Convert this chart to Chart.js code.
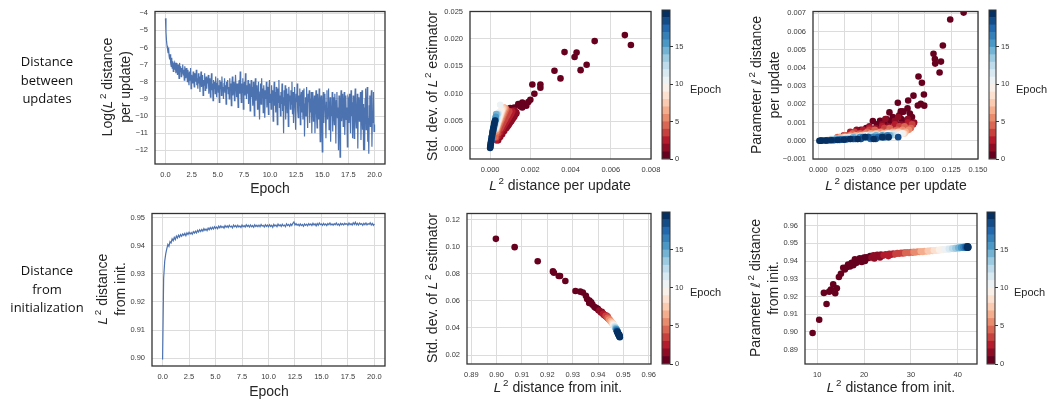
<!DOCTYPE html>
<html><head><meta charset="utf-8">
<script src="https://cdn.jsdelivr.net/npm/chart.js@4.4.0/dist/chart.umd.min.js"></script>
<style>
html,body{margin:0;padding:0;background:#fff;}
body{width:1048px;height:401px;position:relative;overflow:hidden;font-family:"Liberation Sans",Arial,sans-serif;color:#262626;}
canvas{position:absolute;}
.lbl{position:absolute;white-space:nowrap;text-align:center;font-size:14px;line-height:17px;}
.lbl sup,.cbl sup{font-size:70%;vertical-align:0;position:relative;top:-0.6em;margin-left:2px;}
.lbl i{font-family:"DejaVu Sans",sans-serif;font-size:13px;}
.row{position:absolute;width:110px;text-align:center;font-family:"Open Sans",sans-serif;font-size:13px;line-height:18.5px;color:#111;}
.cbl{position:absolute;font-size:11px;line-height:13px;white-space:nowrap;}
</style></head><body>
<script>
// ---------------- DATA ----------------
// Row 1, left: Log(L2 distance per update), sampled every 0.05 epoch
const logDistPerUpdate = [
-4.3,-5.1,-5.6,-5.9,-6.1,-6.3,-6.0,-6.5,-6.7,-6.4,-6.9,-7.1,-6.6,-7.2,-6.8,-7.4,-7.0,-6.9,-7.3,-7.1,-7.5,
-6.9,-7.2,-7.6,-7.0,-7.3,-7.8,-6.9,-7.4,-7.1,-7.7,-7.2,-7.5,-7.0,-7.6,-7.3,-7.9,-7.1,-7.4,-7.8,-7.2,
-7.5,-8.0,-7.3,-7.7,-8.2,-7.4,-7.9,-7.2,-8.4,-7.6,-7.8,-8.1,-7.4,-7.9,-8.3,-7.5,-7.7,-8.0,-7.3,-8.2,
-7.8,-8.4,-7.5,-8.1,-7.7,-8.6,-7.9,-7.4,-8.3,-8.0,-7.6,-8.8,-7.9,-8.2,-7.5,-8.5,-8.0,-7.7,-8.4,-7.8,
-8.1,-7.6,-8.7,-8.0,-7.8,-8.9,-8.2,-7.5,-8.5,-8.1,-9.1,-7.9,-8.4,-8.0,-8.7,-7.7,-8.3,-8.9,-8.1,-7.8,
-8.6,-8.2,-9.2,-7.9,-8.4,-8.0,-8.8,-7.7,-8.5,-8.3,-9.0,-8.1,-7.8,-8.6,-8.2,-9.3,-8.0,-8.4,-7.9,-8.7,
-8.3,-9.0,-7.8,-8.5,-8.1,-9.4,-8.2,-7.7,-8.8,-8.4,-8.0,-9.1,-8.6,-7.6,-8.3,-8.9,-8.1,-8.5,-9.5,-8.2,
-7.9,-8.7,-7.4,-8.4,-9.2,-8.1,-8.6,-7.8,-9.6,-8.3,-8.0,-8.8,-7.5,-8.5,-9.0,-8.2,-8.7,-7.9,-9.3,-8.4,
-8.1,-9.7,-8.6,-7.9,-8.9,-8.3,-9.4,-8.0,-8.7,-10.0,-8.4,-7.8,-9.1,-8.5,-8.2,-9.6,-8.8,-8.0,-9.2,-10.2,
-8.6,-8.1,-9.3,-7.8,-8.9,-8.4,-9.8,-8.2,-8.7,-10.1,-8.5,-9.0,-8.0,-9.5,-8.3,-8.8,-9.9,-8.4,-7.9,-9.2,
-8.7,-9.6,-8.2,-9.1,-8.5,-10.3,-8.9,-8.0,-9.4,-8.6,-9.8,-8.3,-9.0,-10.5,-8.4,-9.2,-7.9,-9.5,-8.8,-10.0,
-8.6,-9.3,-8.1,-9.7,-8.9,-11.0,-8.5,-9.4,-8.2,-10.2,-9.0,-8.4,-9.8,-8.7,-10.6,-8.3,-9.1,-8.8,-9.6,-8.5,
-9.3,-8.0,-9.9,-8.6,-10.4,-9.0,-8.3,-9.5,-10.8,-8.7,-9.2,-8.1,-9.7,-10.1,-8.8,-9.4,-8.4,-10.5,-9.0,-8.6,
-9.8,-8.5,-10.2,-9.1,-8.4,-11.2,-9.3,-8.9,-10.0,-8.3,-9.6,-10.7,-8.7,-9.2,-8.5,-10.4,-9.0,-9.8,-8.6,-11.0,
-9.1,-8.6,-10.3,-9.4,-8.8,-11.0,-9.2,-8.5,-9.9,-10.7,-8.7,-9.5,-10.2,-8.4,-9.7,-11.5,-9.0,-8.8,-10.4,-12.1,
-9.3,-8.6,-10.4,-9.0,-8.7,-9.8,-11.3,-9.2,-8.5,-10.2,-9.6,-8.4,-10.8,-9.7,-8.9,-11.5,-9.4,-10.0,-8.6,-10.9,
-8.9,-9.8,-10.5,-8.7,-9.4,-11.6,-9.1,-8.6,-10.1,-9.5,-12.0,-8.8,-9.9,-12.4,-9.2,-8.5,-10.3,-9.8,-8.7,-10.6,
-9.3,-8.6,-11.1,-9.7,-8.8,-10.2,-9.5,-11.8,-8.9,-9.0,-10.4,-8.7,-9.6,-11.0,-8.5,-10.0,-9.2,-11.3,-8.8,-9.9,
-11.3,-9.2,-8.4,-10.1,-10.7,-9.6,-8.7,-11.9,-9.0,-8.9,-10.3,-9.5,-8.6,-11.4,-9.8,-8.5,-10.8,-9.3,-12.0,-9.5,
-12.0,-9.0,-8.4,-10.8,-9.6,-8.3,-11.5,-10.1,-12.2,-9.4,-8.8,-10.6,-9.1,-8.5,-11.8,-9.7,-10.4,-8.6,-10.9,-10.5
];
const logDistStep = 0.05; // epochs between samples
// Row 2, left: L2 distance from init, sampled every 0.1 epoch
const distFromInit = [
0.8995,0.9285,0.9345,0.9372,0.9390,0.9405,0.9398,0.9415,0.9410,0.9425,0.9418,
0.9430,0.9422,0.9435,0.9428,0.9438,0.9431,0.9440,0.9434,0.9442,0.9437,
0.9444,0.9436,0.9446,0.9440,0.9448,0.9442,0.9447,0.9441,0.9450,0.9445,
0.9452,0.9446,0.9455,0.9449,0.9457,0.9451,0.9458,0.9452,0.9461,0.9455,
0.9460,0.9454,0.9463,0.9457,0.9465,0.9459,0.9466,0.9460,0.9468,0.9462,
0.9467,0.9461,0.9470,0.9464,0.9471,0.9465,0.9469,0.9463,0.9472,0.9466,
0.9471,0.9465,0.9473,0.9467,0.9470,0.9464,0.9474,0.9468,0.9472,0.9466,
0.9473,0.9467,0.9471,0.9465,0.9474,0.9468,0.9472,0.9467,0.9475,0.9469,
0.9473,0.9467,0.9474,0.9468,0.9472,0.9466,0.9475,0.9469,0.9473,0.9468,
0.9474,0.9468,0.9476,0.9470,0.9473,0.9467,0.9475,0.9469,0.9474,0.9468,
0.9475,0.9469,0.9473,0.9466,0.9476,0.9470,0.9474,0.9468,0.9477,0.9471,
0.9475,0.9469,0.9477,0.9471,0.9474,0.9468,0.9478,0.9472,0.9476,0.9470,
0.9478,0.9472,0.9480,0.9485,0.9474,0.9479,0.9473,0.9477,0.9471,0.9478,
0.9472,0.9476,0.9470,0.9478,0.9473,0.9477,0.9471,0.9479,0.9474,0.9478,
0.9472,0.9480,0.9474,0.9478,0.9471,0.9479,0.9473,0.9481,0.9475,0.9478,
0.9473,0.9480,0.9474,0.9478,0.9472,0.9479,0.9475,0.9481,0.9474,0.9478,
0.9473,0.9479,0.9475,0.9481,0.9474,0.9478,0.9472,0.9480,0.9475,0.9479,
0.9474,0.9480,0.9476,0.9479,0.9473,0.9481,0.9475,0.9479,0.9474,0.9482,
0.9476,0.9484,0.9475,0.9480,0.9474,0.9481,0.9476,0.9479,0.9473,0.9480,
0.9475,0.9481,0.9474,0.9479,0.9476,0.9482,0.9474,0.9480,0.9473,0.9478
];
const distInitStep = 0.1; // epochs between samples

// Row 1, middle: x = L2 distance per update, y = std. dev. of L2 estimator; group index = epoch
const stdUpdX = [
 [0.0070,0.0067,0.0052,0.0048,0.0045,0.0043,0.0042,0.0037,0.0035,0.0032,0.0025,0.0025,0.0022,0.0021,0.0020,0.0019,0.0018,0.0017,0.0016,0.0015,0.0016,0.0014,0.0012,0.0011,0.0010,0.0012,0.0013,0.0011,0.0012,0.0010,0.0008],
 [0.0013,0.00125,0.0012,0.00115,0.0011,0.00105,0.001,0.00095,0.0009,0.00085,0.0008,0.0007,0.0006,0.0005,0.0004,0.0012,0.0011,0.0010],
 [0.0011,0.00105,0.001,0.00095,0.0009,0.00085,0.0008,0.00075,0.0007,0.00065,0.0006,0.0005,0.0004,0.0003],
 [0.00095,0.0009,0.00085,0.0008,0.00075,0.0007,0.00065,0.0006,0.00055,0.0005,0.0004,0.0003],
 [0.0008,0.00075,0.0007,0.00065,0.0006,0.00055,0.0005,0.00045,0.0004,0.00035,0.0003,0.00025],
 [0.00075,0.0007,0.00065,0.0006,0.00055,0.0005,0.00045,0.0004,0.00035,0.0003],
 [0.0007,0.00065,0.0006,0.00055,0.0005,0.00045,0.0004,0.00035,0.0003],
 [0.00065,0.0006,0.00055,0.0005,0.00045,0.0004,0.00035,0.0003],
 [0.0006,0.00055,0.0005,0.00045,0.0004,0.00035,0.0003],
 [0.00055,0.0005,0.00045,0.0004,0.00035,0.0003],
 [0.0005,0.00045,0.0004,0.00035,0.0003],
 [0.00042,0.00037,0.00032,0.00027],
 [0.00038,0.00033,0.00028,0.00023],
 [0.00034,0.00029,0.00024,0.0002],
 [0.0003,0.00026,0.00022,0.00018,0.00014],
 [0.00028,0.00024,0.0002,0.00016,0.00012],
 [0.00026,0.00022,0.00018,0.00014,0.0001,0.00006],
 [0.00024,0.0002,0.00016,0.00012,0.00008,0.00004],
 [0.00022,0.00018,0.00014,0.0001,0.00006,0.00003,0.00001],
 [0.0002,0.00016,0.00012,0.00008,0.00005,0.00003,0.00001,0.0,0.00025,0.00014]
];
const stdUpdY = [
 [0.0189,0.0207,0.0196,0.0153,0.0143,0.0175,0.0167,0.0176,0.0128,0.0142,0.0117,0.0111,0.0100,0.0117,0.0089,0.0085,0.0078,0.0080,0.0084,0.0077,0.0075,0.0081,0.0075,0.0072,0.0074,0.0069,0.0064,0.0066,0.0060,0.0055,0.0045],
 [0.0066,0.0062,0.0058,0.0056,0.0053,0.0050,0.0048,0.0045,0.0042,0.0040,0.0037,0.0032,0.0026,0.0021,0.0015,0.0070,0.0063,0.0057],
 [0.0068,0.0064,0.0061,0.0058,0.0055,0.0052,0.0049,0.0046,0.0043,0.0040,0.0036,0.0030,0.0023,0.0015],
 [0.0068,0.0065,0.0061,0.0058,0.0054,0.0051,0.0047,0.0044,0.0040,0.0036,0.0028,0.0020],
 [0.0072,0.0068,0.0064,0.0060,0.0055,0.0051,0.0046,0.0042,0.0037,0.0032,0.0027,0.0021],
 [0.0074,0.0070,0.0065,0.0061,0.0056,0.0051,0.0047,0.0042,0.0037,0.0031],
 [0.0075,0.0071,0.0066,0.0061,0.0056,0.0051,0.0046,0.0041,0.0035],
 [0.0074,0.0069,0.0064,0.0059,0.0053,0.0048,0.0042,0.0036],
 [0.0072,0.0067,0.0061,0.0055,0.0050,0.0044,0.0038],
 [0.0070,0.0064,0.0058,0.0052,0.0046,0.0040],
 [0.0080,0.0066,0.0059,0.0052,0.0045],
 [0.0064,0.0057,0.0050,0.0043],
 [0.0063,0.0056,0.0049,0.0041],
 [0.0062,0.0054,0.0046,0.0039],
 [0.0063,0.0055,0.0047,0.0039,0.0031],
 [0.0058,0.0050,0.0042,0.0034,0.0026],
 [0.0052,0.0045,0.0038,0.0030,0.0022,0.0014],
 [0.0049,0.0042,0.0035,0.0027,0.0019,0.0011],
 [0.0047,0.0040,0.0032,0.0024,0.0016,0.0009,0.0004],
 [0.0045,0.0037,0.0029,0.0021,0.0014,0.0008,0.0003,0.0001,0.0051,0.0033]
];

// Row 1, right: x = L2 distance per update, y = parameter l2 distance per update
const paramUpdX = [
 [0.1365,0.1239,0.1170,0.1152,0.1139,0.1082,0.1095,0.1098,0.0941,0.0973,0.0992,0.0894,0.0844,0.0747,0.0935,0.0963,0.0995,0.0668,0.0775,0.0838,0.0512,0.0627,0.055,0.058,0.060,0.062,0.064,0.066,0.068,0.070,0.072,0.074,0.076,0.078,0.080,0.082,0.085,0.088,0.086,0.079,0.058,0.045,0.040],
 [0.030,0.036,0.042,0.048,0.054,0.060,0.066,0.072,0.078,0.084,0.090,0.063,0.075],
 [0.024,0.030,0.036,0.042,0.048,0.054,0.060,0.066,0.072,0.078,0.084,0.089],
 [0.020,0.027,0.034,0.041,0.048,0.055,0.062,0.069,0.076,0.083,0.088],
 [0.018,0.025,0.032,0.039,0.046,0.053,0.060,0.067,0.074,0.081,0.087],
 [0.016,0.023,0.030,0.037,0.044,0.051,0.058,0.065,0.072,0.079,0.085],
 [0.014,0.021,0.028,0.035,0.042,0.049,0.056,0.063,0.070,0.077,0.082],
 [0.012,0.019,0.026,0.033,0.040,0.047,0.054,0.061,0.068,0.075,0.081],
 [0.011,0.018,0.025,0.032,0.039,0.046,0.053,0.060,0.067,0.074,0.080],
 [0.010,0.017,0.024,0.031,0.038,0.045,0.052,0.059,0.066,0.073,0.079],
 [0.009,0.016,0.023,0.030,0.037,0.044,0.051,0.058,0.065,0.072,0.078],
 [0.008,0.015,0.022,0.029,0.036,0.043,0.050,0.057,0.064,0.071],
 [0.007,0.014,0.021,0.028,0.035,0.042,0.049,0.056,0.063,0.070],
 [0.006,0.013,0.020,0.027,0.034,0.041,0.048,0.055,0.062,0.068],
 [0.006,0.012,0.019,0.026,0.033,0.040,0.047,0.054,0.061,0.067],
 [0.005,0.011,0.018,0.025,0.032,0.039,0.046,0.053,0.060,0.066],
 [0.004,0.010,0.016,0.023,0.030,0.037,0.044,0.051,0.058,0.065],
 [0.003,0.009,0.015,0.021,0.028,0.035,0.042,0.049,0.056,0.063],
 [0.003,0.008,0.014,0.020,0.026,0.033,0.040,0.047,0.054,0.061,0.075],
 [0.001,0.002,0.007,0.012,0.018,0.024,0.030,0.037,0.044,0.052,0.060,0.066]
];
const paramUpdY = [
 [0.00704,0.00666,0.00523,0.00435,0.00375,0.00478,0.00449,0.00424,0.00353,0.00319,0.00254,0.00248,0.00221,0.00209,0.00194,0.00203,0.00193,0.00156,0.00162,0.00178,0.00109,0.00112,0.0009,0.0008,0.0010,0.0009,0.0012,0.0008,0.0011,0.0013,0.0010,0.0009,0.0014,0.0012,0.0016,0.0011,0.0010,0.0013,0.0015,0.0016,0.0011,0.0007,0.0006],
 [0.0004,0.0006,0.0005,0.0008,0.0007,0.0009,0.0008,0.0011,0.0009,0.0012,0.0010,0.0012,0.0013],
 [0.0003,0.0005,0.0004,0.0006,0.0007,0.0006,0.0008,0.0007,0.0009,0.0008,0.0010,0.0009],
 [0.0002,0.0003,0.0005,0.0004,0.0006,0.0005,0.0007,0.0006,0.0008,0.0007,0.0009],
 [0.0002,0.0003,0.0004,0.0004,0.0005,0.0006,0.0005,0.0007,0.0006,0.0008,0.0007],
 [0.0001,0.0002,0.0003,0.0003,0.0004,0.0004,0.0005,0.0005,0.0005,0.0006,0.0006],
 [0.0001,0.0002,0.0002,0.0003,0.0003,0.0004,0.0004,0.0004,0.0005,0.0005,0.0005],
 [0.0001,0.0001,0.0002,0.0002,0.0003,0.0003,0.0004,0.0004,0.0004,0.0005,0.0004],
 [0.0001,0.0001,0.0002,0.0002,0.0002,0.0003,0.0003,0.0003,0.0004,0.0004,0.0004],
 [0.00005,0.0001,0.0001,0.0002,0.0002,0.0002,0.0003,0.0003,0.0003,0.0003,0.0004],
 [0.00005,0.0001,0.0001,0.0002,0.0002,0.0003,0.0002,0.0003,0.0004,0.0003,0.0004],
 [0.00004,0.00008,0.0001,0.0002,0.0002,0.0002,0.0003,0.0002,0.0003,0.0004],
 [0.00003,0.00007,0.0001,0.0001,0.0002,0.0002,0.0003,0.0002,0.0003,0.0003],
 [0.00003,0.00006,0.0001,0.0001,0.0001,0.0002,0.0002,0.0003,0.0002,0.0003],
 [0.00002,0.00005,0.0001,0.0001,0.0002,0.0001,0.0002,0.0003,0.0002,0.0003],
 [0.00002,0.00004,0.00007,0.0001,0.0001,0.0002,0.0002,0.0002,0.0003,0.0002],
 [0.00001,0.00003,0.00005,0.0001,0.0001,0.0001,0.0002,0.0002,0.0002,0.0003],
 [0.00001,0.00003,0.00004,0.00006,0.0001,0.0001,0.0002,0.0001,0.0002,0.0002],
 [0.00001,0.00002,0.00003,0.00005,0.00007,0.0001,0.0001,0.0002,0.0001,0.0002,0.0002],
 [0.0,0.0,0.00002,0.00003,0.00004,0.00006,0.0001,0.0001,0.0002,0.0001,0.0002,0.0002]
];

// Row 2, middle: x = L2 distance from init, y = std. dev. of L2 estimator
const stdInitX = [
 [0.8997,0.9071,0.9162,0.9222,0.9226,0.9245,0.9250,0.9271,0.9311,0.9330,0.9340,0.9352,0.9357,0.9366,0.9373,0.9386,0.9399,0.9412,0.9425,0.9365,0.9378,0.9392,0.9402],
 [0.9405,0.9412,0.9418,0.9422,0.9428,0.9415],
 [0.9420,0.9426,0.9430,0.9435,0.9433],
 [0.9430,0.9436,0.9440,0.9438],
 [0.9438,0.9443,0.9447,0.9441],
 [0.9444,0.9449,0.9452],
 [0.9450,0.9454,0.9457],
 [0.9455,0.9458,0.9461],
 [0.9458,0.9461,0.9464],
 [0.9461,0.9464,0.9466],
 [0.9463,0.9466,0.9468],
 [0.9465,0.9468,0.9470],
 [0.9467,0.9470,0.9472],
 [0.9469,0.9472,0.9474],
 [0.9470,0.9473,0.9476],
 [0.9472,0.9475,0.9478],
 [0.9473,0.9476,0.9479,0.9481],
 [0.9474,0.9477,0.9480,0.9483],
 [0.9475,0.9478,0.9481,0.9484,0.9485],
 [0.9476,0.9479,0.9482,0.9485,0.9486,0.9484]
];
const stdInitY = [
 [0.1057,0.0996,0.0892,0.0817,0.0807,0.0783,0.0783,0.0746,0.0673,0.0668,0.0662,0.0638,0.0614,0.0602,0.0590,0.0554,0.0541,0.0517,0.0493,0.0585,0.0572,0.0548,0.0530],
 [0.0528,0.0515,0.0508,0.0500,0.0492,0.0520],
 [0.0505,0.0496,0.0488,0.0480,0.0492],
 [0.0490,0.0478,0.0470,0.0484],
 [0.0476,0.0466,0.0458,0.0470],
 [0.0462,0.0452,0.0446],
 [0.0450,0.0440,0.0434],
 [0.0440,0.0432,0.0426],
 [0.0432,0.0424,0.0418],
 [0.0424,0.0416,0.0410],
 [0.0418,0.0410,0.0404],
 [0.0412,0.0404,0.0398],
 [0.0406,0.0398,0.0392],
 [0.0400,0.0392,0.0386],
 [0.0396,0.0386,0.0380],
 [0.0390,0.0380,0.0372],
 [0.0385,0.0374,0.0364,0.0356],
 [0.0380,0.0368,0.0358,0.0348],
 [0.0376,0.0362,0.0352,0.0342,0.0336],
 [0.0372,0.0358,0.0346,0.0338,0.0332,0.0350]
];

// Row 2, right: x = L2 distance from init (function space), y = parameter l2 distance from init
const paramInitX = [
 [9.02,10.43,11.43,12.0,12.57,12.93,13.42,13.85,14.2,14.64,15.06,15.56,15.9,16.3,16.6,17.0,17.35,17.7,18.05,18.4,18.8,19.1,19.5,19.8,20.2,20.5,20.9,21.3,19.3,20.0],
 [21.6,22.0,22.4,22.8,23.2,23.6,24.0,22.2,23.4],
 [24.2,24.6,25.0,25.4,25.8,26.2,26.5,25.2],
 [26.7,27.1,27.5,27.9,28.3,28.6],
 [28.8,29.2,29.6,30.0,30.4],
 [30.6,31.0,31.4,31.8],
 [32.1,32.5,32.9,33.3],
 [33.6,33.9,34.2,34.6],
 [34.9,35.2,35.5,35.8],
 [36.0,36.3,36.6,36.9],
 [37.1,37.4,37.7,37.9],
 [38.1,38.3,38.6],
 [38.8,39.1,39.3],
 [39.5,39.7,39.9],
 [40.1,40.3,40.5],
 [40.7,40.9,41.1],
 [41.2,41.4,41.5],
 [41.6,41.7,41.8],
 [41.9,42.0,41.95],
 [42.05,42.15,42.2,42.1,42.25]
];
const paramInitY = [
 [0.8993,0.9068,0.9220,0.9157,0.9227,0.9239,0.9268,0.9218,0.9246,0.9310,0.9328,0.9362,0.9352,0.9365,0.9380,0.9370,0.9390,0.9376,0.9410,0.9390,0.9400,0.9415,0.9395,0.9410,0.9400,0.9422,0.9418,0.9428,0.9405,0.9420],
 [0.9420,0.9432,0.9425,0.9435,0.9428,0.9437,0.9431,0.9415,0.9420],
 [0.9433,0.9439,0.9434,0.9441,0.9436,0.9443,0.9438,0.9428],
 [0.9440,0.9445,0.9441,0.9447,0.9443,0.9448],
 [0.9445,0.9450,0.9446,0.9451,0.9448],
 [0.9452,0.9449,0.9454,0.9451],
 [0.9455,0.9452,0.9457,0.9454],
 [0.9458,0.9455,0.9460,0.9457],
 [0.9461,0.9458,0.9463,0.9460],
 [0.9464,0.9461,0.9466,0.9463],
 [0.9467,0.9464,0.9469,0.9466],
 [0.9469,0.9467,0.9471],
 [0.9471,0.9469,0.9473],
 [0.9473,0.9471,0.9475],
 [0.9475,0.9473,0.9477],
 [0.9477,0.9475,0.9479],
 [0.9478,0.9476,0.9480],
 [0.9479,0.9477,0.9481],
 [0.9478,0.9482,0.9476],
 [0.9477,0.9481,0.9476,0.9483,0.9479]
];

// Tick values and labels
const epochTicks = [0,2.5,5,7.5,10,12.5,15,17.5,20];
const epochTickLabels = ['0.0','2.5','5.0','7.5','10.0','12.5','15.0','17.5','20.0'];
const logTicks = [-12,-11,-10,-9,-8,-7,-6,-5,-4];
const logTickLabels = ['\u221212','\u221211','\u221210','\u22129','\u22128','\u22127','\u22126','\u22125','\u22124'];
const updXTicks = [0,0.002,0.004,0.006,0.008];
const updXTickLabels = ['0.000','0.002','0.004','0.006','0.008'];
const stdUpdYTicks = [0,0.005,0.010,0.015,0.020,0.025];
const stdUpdYTickLabels = ['0.000','0.005','0.010','0.015','0.020','0.025'];
const updX2Ticks = [0,0.025,0.05,0.075,0.1,0.125,0.15];
const updX2TickLabels = ['0.000','0.025','0.050','0.075','0.100','0.125','0.150'];
const paramUpdYTicks = [-0.001,0,0.001,0.002,0.003,0.004,0.005,0.006,0.007];
const paramUpdYTickLabels = ['\u22120.001','0.000','0.001','0.002','0.003','0.004','0.005','0.006','0.007'];
const initYTicks = [0.90,0.91,0.92,0.93,0.94,0.95];
const initYTickLabels = ['0.90','0.91','0.92','0.93','0.94','0.95'];
const initXTicks = [0.89,0.90,0.91,0.92,0.93,0.94,0.95,0.96];
const initXTickLabels = ['0.89','0.90','0.91','0.92','0.93','0.94','0.95','0.96'];
const stdInitYTicks = [0.02,0.04,0.06,0.08,0.10,0.12];
const stdInitYTickLabels = ['0.02','0.04','0.06','0.08','0.10','0.12'];
const funcInitXTicks = [10,20,30,40];
const funcInitXTickLabels = ['10','20','30','40'];
const paramInitYTicks = [0.89,0.90,0.91,0.92,0.93,0.94,0.95,0.96];
const paramInitYTickLabels = ['0.89','0.90','0.91','0.92','0.93','0.94','0.95','0.96'];
const cbTicks = [0,5,10,15];
const cbTickLabels = ['0','5','10','15'];
const cbMax = 19.95;       // colour bar range (epochs)
const cbLevels = 20;       // discrete colour levels

// ---------------- STYLE / HELPERS ----------------
const FONT = "'Liberation Sans', Arial, sans-serif";
const TICK_FONT = {family: FONT, size: 7.5};
const TICK_COLOR = '#3a3a3a';
const GRID_COLOR = '#dcdcdc';
const LINE_COLOR = '#4c72b0';
const YW = 44, XH = 22, PT = 10, PR = 16;

const RDBU = ['#67001f','#b2182b','#d6604d','#f4a582','#fddbc7','#f7f7f7','#d1e5f0','#92c5de','#4393c3','#2166ac','#053061'];
function hex2rgb(h){return [parseInt(h.slice(1,3),16),parseInt(h.slice(3,5),16),parseInt(h.slice(5,7),16)];}
function cmap(t){
  const p = Math.max(0, Math.min(1, t)) * 10;
  const i = Math.min(9, Math.floor(p)), f = p - i;
  const a = hex2rgb(RDBU[i]), b = hex2rgb(RDBU[i+1]);
  return 'rgb(' + a.map((v,k)=>Math.round(v + (b[k]-v)*f)).join(',') + ')';
}
function levelColor(k){ return cmap(k / (cbLevels - 1)); }

const framePlugin = {
  id: 'frame',
  afterDraw(chart){
    const {ctx, chartArea:a} = chart;
    ctx.save();
    ctx.strokeStyle = '#333';
    ctx.lineWidth = chart.config.type === 'bar' ? 1 : 1.3;
    ctx.strokeRect(a.left, a.top, a.right - a.left, a.bottom - a.top);
    ctx.restore();
  }
};

function placeCanvas(left, top, w, h){
  const c = document.createElement('canvas');
  c.width = w; c.height = h;
  c.style.left = left + 'px'; c.style.top = top + 'px';
  c.style.width = w + 'px'; c.style.height = h + 'px';
  document.body.appendChild(c);
  return c;
}

function linAxis(pos, range, ticks, labels, size, isX){
  return {
    type: 'linear', position: pos, min: range[0], max: range[1], bounds: 'data',
    afterBuildTicks: s => { s.ticks = ticks.map(v => ({value: v})); },
    afterFit: s => { if (isX) s.height = size; else s.width = size; },
    ticks: {callback: (v, i) => labels[i], autoSkip: false, maxRotation: 0, minRotation: 0,
            padding: isX ? 6 : 7, color: TICK_COLOR, font: TICK_FONT},
    grid: {color: GRID_COLOR, lineWidth: 1, drawTicks: false},
    border: {display: false}
  };
}

function makePlot(box, datasets, xr, xt, xl, yr, yt, yl){
  const c = placeCanvas(box.l - YW, box.t - PT, box.r - box.l + YW + PR, box.b - box.t + PT + XH);
  return new Chart(c, {
    type: 'scatter',
    data: {datasets},
    options: {
      responsive: false, animation: false, devicePixelRatio: 1, events: [],
      layout: {padding: {top: PT, right: PR, left: 0, bottom: 0}},
      plugins: {legend: {display: false}, tooltip: {enabled: false}},
      scales: {x: linAxis('bottom', xr, xt, xl, XH, true), y: linAxis('left', yr, yt, yl, YW, false)}
    },
    plugins: [framePlugin]
  });
}

function makeColorbar(box){
  const CW = 30, PB = 8, PL = 2;
  const c = placeCanvas(box.l - PL, box.t - PT, box.r - box.l + CW + PL, box.b - box.t + PT + PB);
  const step = cbMax / cbLevels;
  const datasets = [];
  for (let k = 0; k < cbLevels; k++) {
    datasets.push({data: [step], backgroundColor: levelColor(k), borderWidth: 0,
                   barPercentage: 1, categoryPercentage: 1});
  }
  return new Chart(c, {
    type: 'bar',
    data: {labels: ['Epoch'], datasets},
    options: {
      responsive: false, animation: false, devicePixelRatio: 1, events: [],
      layout: {padding: {top: PT, bottom: PB, left: PL, right: 0}},
      plugins: {legend: {display: false}, tooltip: {enabled: false}},
      scales: {
        x: {display: false, stacked: true},
        y: {type: 'linear', position: 'right', stacked: true, min: 0, max: cbMax, bounds: 'data',
            afterBuildTicks: s => { s.ticks = cbTicks.map(v => ({value: v})); },
            afterFit: s => { s.width = CW; },
            ticks: {callback: (v, i) => cbTickLabels[i], padding: 2, color: TICK_COLOR, font: TICK_FONT},
            grid: {drawOnChartArea: false, drawTicks: true, tickLength: 3, color: '#333', lineWidth: 1},
            border: {display: false}}
      }
    },
    plugins: [framePlugin]
  });
}

function lineSet(values, step){
  return [{data: values.map((v, i) => ({x: i * step, y: v})), showLine: true, pointRadius: 0,
           borderColor: LINE_COLOR, borderWidth: 1.2, tension: 0, fill: false}];
}
function scatterSet(xs, ys){
  const pts = [], cols = [];
  xs.forEach((g, e) => g.forEach((x, i) => { pts.push({x, y: ys[e][i]}); cols.push(levelColor(e)); }));
  return [{data: pts, backgroundColor: cols, borderWidth: 0, pointRadius: 3.3, pointHoverRadius: 3.3}];
}

function addLabel(html, cx, cy, rotated){
  const d = document.createElement('div');
  d.className = 'lbl'; d.innerHTML = html;
  d.style.left = cx + 'px'; d.style.top = cy + 'px';
  d.style.transform = 'translate(-50%,-50%)' + (rotated ? ' rotate(-90deg)' : '');
  document.body.appendChild(d);
}
function addCbLabel(text, x, cy){
  const d = document.createElement('div');
  d.className = 'cbl'; d.textContent = text;
  d.style.left = x + 'px'; d.style.top = cy + 'px'; d.style.transform = 'translateY(-50%)';
  document.body.appendChild(d);
}
function addRow(html, cx, top){
  const d = document.createElement('div');
  d.className = 'row'; d.innerHTML = html;
  d.style.left = (cx - 55) + 'px'; d.style.top = top + 'px';
  document.body.appendChild(d);
}

// ---------------- BUILD ----------------
const L2 = '<i>L</i><sup>2</sup>';
const l2 = '<i>\u2113</i><sup>2</sup>';

makePlot({l:155, t:10, r:385, b:164}, lineSet(logDistPerUpdate, logDistStep),
  [-1, 21], epochTicks, epochTickLabels, [-12.8, -3.9], logTicks, logTickLabels);
makePlot({l:470, t:10, r:651, b:159}, scatterSet(stdUpdX, stdUpdY),
  [-0.001, 0.008], updXTicks, updXTickLabels, [-0.0019, 0.025], stdUpdYTicks, stdUpdYTickLabels);
makeColorbar({l:662, t:10, r:670, b:159});
makePlot({l:813, t:10, r:978, b:159}, scatterSet(paramUpdX, paramUpdY),
  [-0.005, 0.15], updX2Ticks, updX2TickLabels, [-0.001, 0.0071], paramUpdYTicks, paramUpdYTickLabels);
makeColorbar({l:989, t:10, r:996, b:159});

makePlot({l:152, t:212, r:385, b:366}, lineSet(distFromInit, distInitStep),
  [-1, 21], epochTicks, epochTickLabels, [0.8972, 0.9515], initYTicks, initYTickLabels);
makePlot({l:467, t:212, r:651, b:364}, scatterSet(stdInitX, stdInitY),
  [0.8883, 0.9609], initXTicks, initXTickLabels, [0.01345, 0.1244], stdInitYTicks, stdInitYTickLabels);
makeColorbar({l:662, t:212, r:670, b:364});
makePlot({l:805, t:212, r:977, b:364}, scatterSet(paramInitX, paramInitY),
  [7.4, 44.1], funcInitXTicks, funcInitXTickLabels, [0.8818, 0.9669], paramInitYTicks, paramInitYTickLabels);
makeColorbar({l:987, t:212, r:995, b:364});

// Axis titles
addLabel('Log(' + L2 + ' distance<br>per update)', 116, 87, true);
addLabel('Epoch', 270, 188, false);
addLabel('Std. dev. of ' + L2 + ' estimator', 433, 86, true);
addLabel(L2 + ' distance per update', 560, 186, false);
addLabel('Parameter ' + l2 + ' distance<br>per update', 765, 85, true);
addLabel(L2 + ' distance per update', 896, 186, false);

addLabel(L2 + ' distance<br>from init.', 111, 289, true);
addLabel('Epoch', 269, 391, false);
addLabel('Std. dev. of ' + L2 + ' estimator', 433, 288, true);
addLabel(L2 + ' distance from init.', 558, 388, false);
addLabel('Parameter ' + l2 + ' distance<br>from init.', 764, 288, true);
addLabel(L2 + ' distance from init.', 891, 388, false);

// Colour bar titles
addCbLabel('Epoch', 690, 89);
addCbLabel('Epoch', 1016, 89);
addCbLabel('Epoch', 690, 292);
addCbLabel('Epoch', 1014, 292);

// Row titles
addRow('Distance<br>between<br>updates', 47, 52);
addRow('Distance<br>from<br>initialization', 47, 261);
</script>
</body></html>
